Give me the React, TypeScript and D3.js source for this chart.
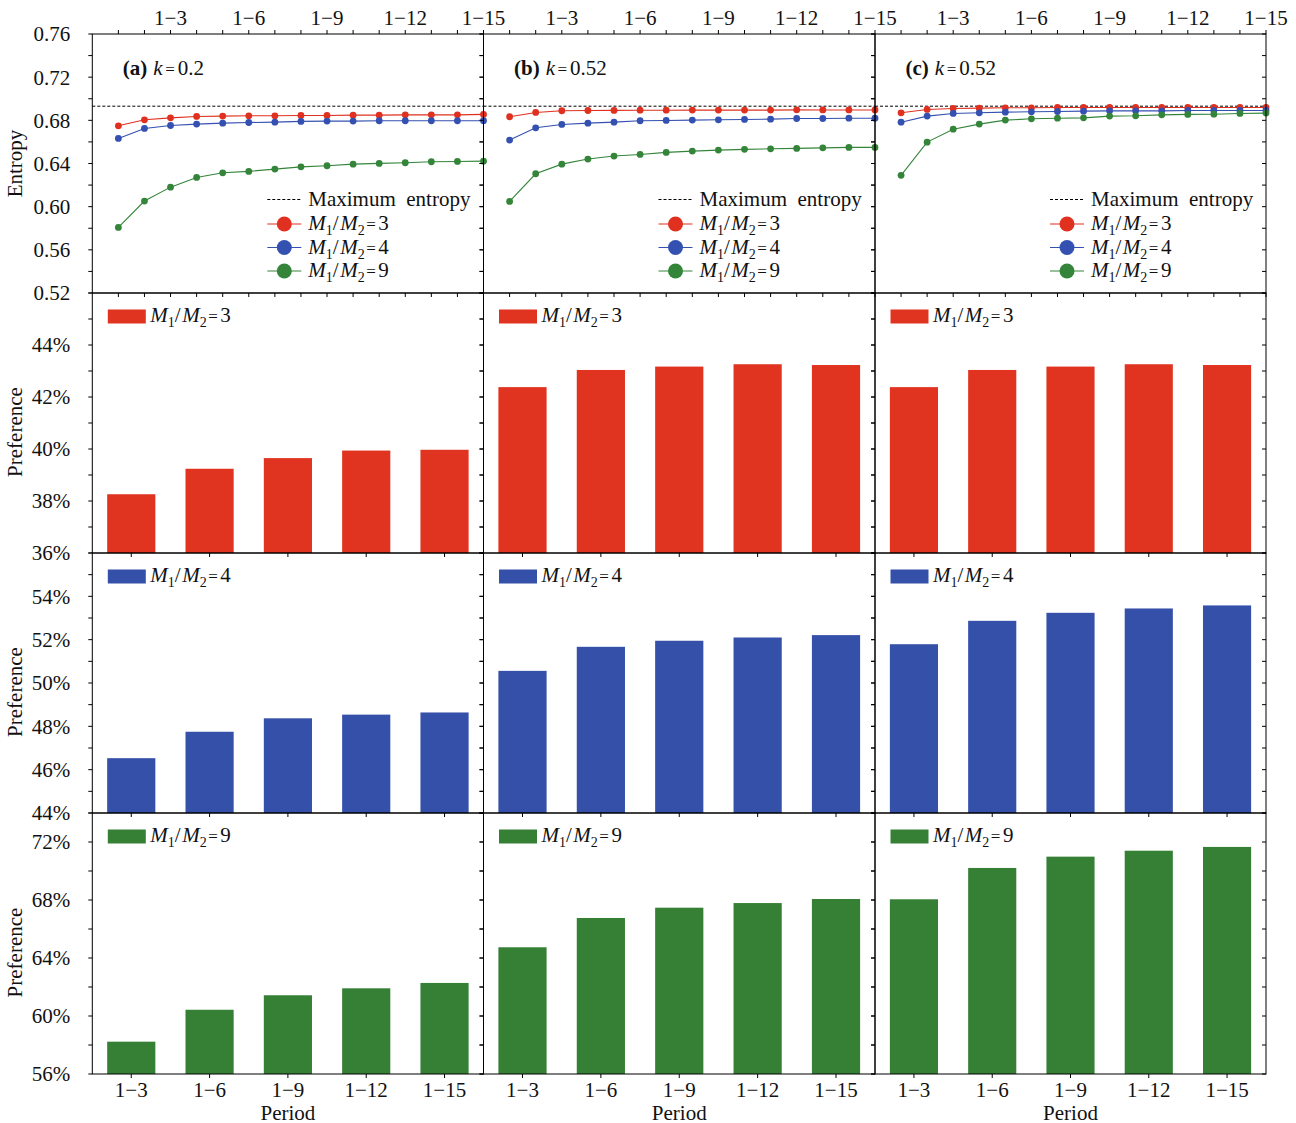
import React from "react";
import * as d3 from "d3";

// ---- data ----
const steps = d3.range(1, 16); // cumulative periods 1..15
const topTickLabels = ["1−3", "1−6", "1−9", "1−12", "1−15"];
const periodLabels = ["1−3", "1−6", "1−9", "1−12", "1−15"];
const ratios = [3, 4, 9];
const maxEntropy = 0.6931;

const panelTitles = [
  { tag: "(a)", k: "0.2" },
  { tag: "(b)", k: "0.52" },
  { tag: "(c)", k: "0.52" },
];

// entropy per step, k = 0.2
const entA_r3 = [0.6749, 0.6805, 0.6823, 0.6836, 0.6839, 0.6842, 0.6842, 0.6845, 0.6845, 0.6848, 0.6848, 0.6851, 0.6851, 0.6851, 0.6855];
const entA_r4 = [0.6632, 0.6725, 0.6752, 0.6765, 0.6774, 0.678, 0.6783, 0.679, 0.6793, 0.6793, 0.6796, 0.6796, 0.6796, 0.6796, 0.6796];
const entA_r9 = [0.5808, 0.6052, 0.6181, 0.6271, 0.6314, 0.6327, 0.6348, 0.6369, 0.6379, 0.6394, 0.6401, 0.6407, 0.6416, 0.6419, 0.6422];
// entropy per step, k = 0.52 (b)
const entB_r3 = [0.6833, 0.6873, 0.6889, 0.6891, 0.6892, 0.6894, 0.6894, 0.6895, 0.6895, 0.6895, 0.6895, 0.6897, 0.6896, 0.6896, 0.6896];
const entB_r4 = [0.6617, 0.6731, 0.6762, 0.6774, 0.6783, 0.6796, 0.6799, 0.6802, 0.6805, 0.6808, 0.6811, 0.6817, 0.6817, 0.682, 0.682];
const entB_r9 = [0.6049, 0.6305, 0.6394, 0.6441, 0.6469, 0.6484, 0.6503, 0.6515, 0.6524, 0.6531, 0.6536, 0.654, 0.6545, 0.6549, 0.6549];
// entropy per step, k = 0.52 (c)
const entC_r3 = [0.687, 0.6901, 0.691, 0.6913, 0.6916, 0.6916, 0.6919, 0.6919, 0.6919, 0.6919, 0.6919, 0.6919, 0.6919, 0.6919, 0.6919];
const entC_r4 = [0.6783, 0.6839, 0.6864, 0.687, 0.6876, 0.6879, 0.6882, 0.6885, 0.6888, 0.6888, 0.6888, 0.6891, 0.6891, 0.6891, 0.6891];
const entC_r9 = [0.629, 0.6598, 0.6718, 0.6765, 0.6802, 0.6814, 0.682, 0.6823, 0.6839, 0.6842, 0.6851, 0.6855, 0.6857, 0.6864, 0.6867];

// preference (%) per period
const prefA_r3 = [38.26, 39.24, 39.65, 39.94, 39.97];
const prefA_r4 = [46.53, 47.75, 48.37, 48.54, 48.64];
const prefA_r9 = [58.23, 60.43, 61.43, 61.91, 62.28];
const prefB_r3 = [42.38, 43.04, 43.17, 43.26, 43.23];
const prefB_r4 = [50.56, 51.67, 51.95, 52.1, 52.21];
const prefB_r9 = [64.74, 66.76, 67.47, 67.79, 68.07];
const prefC_r3 = [42.38, 43.04, 43.17, 43.26, 43.23];
const prefC_r4 = [51.79, 52.87, 53.24, 53.44, 53.58];
const prefC_r9 = [68.05, 70.21, 70.99, 71.4, 71.66];

const entropySeries = [
  [entA_r3, entA_r4, entA_r9],
  [entB_r3, entB_r4, entB_r9],
  [entC_r3, entC_r4, entC_r9],
];
const prefSeries = [
  [prefA_r3, prefA_r4, prefA_r9],
  [prefB_r3, prefB_r4, prefB_r9],
  [prefC_r3, prefC_r4, prefC_r9],
];

// ---- layout & style ----
const W = 1296;
const H = 1123;
const colX = [92.3, 483.5, 875, 1266];
const rowY = [34, 293, 553, 813, 1074];
const FONT = "'Liberation Serif', 'Times New Roman', serif";
const FS = 21;
const TICK = 4;
const lineColors = ["#e0301f", "#3450b0", "#34853a"];
const barColors = ["#e03421", "#3450a8", "#368036"];
const barDomains = [
  [36, 46],
  [44, 56],
  [56, 74],
];
const barMajor = [2, 2, 4];
const barMinor = [1, 1, 2];

function RatioText({ x, y, n }: { x: number; y: number; n: number }) {
  return (
    <text x={x} y={y} fontFamily={FONT} fontSize={FS} fill="#111">
      <tspan fontStyle="italic">M</tspan>
      <tspan fontSize={14} dy={5}>1</tspan>
      <tspan dy={-5}>/</tspan>
      <tspan fontStyle="italic" dx={1.5}>M</tspan>
      <tspan fontSize={14} dy={5}>2</tspan>
      <tspan dy={-5} dx={1.5} fontSize={17}>=</tspan>
      <tspan dx={2.5}>{n}</tspan>
    </text>
  );
}

function EntropyPanel({ col }: { col: number }) {
  const L = colX[col];
  const R = colX[col + 1];
  const T = rowY[0];
  const B = rowY[1];
  const x = d3.scaleLinear().domain([0, 15]).range([L, R]);
  const y = d3.scaleLinear().domain([0.52, 0.76]).range([B, T]);
  const yTicks = d3.range(0.52, 0.7601, 0.02);
  const yLabels = d3.range(0.52, 0.7601, 0.04);
  const line = d3
    .line<number>()
    .x((_, i) => x(steps[i]))
    .y((d) => y(d));
  const series = entropySeries[col];
  const title = panelTitles[col];
  const lx = L + 175;
  const legendRows = [224, 247.5, 271];
  return (
    <g>
      {/* ticks */}
      {steps.map((s) => (
        <g key={"tx" + s}>
          <line x1={x(s)} x2={x(s)} y1={T} y2={T - TICK} stroke="#000" />
          <line x1={x(s)} x2={x(s)} y1={B} y2={B + TICK} stroke="#000" />
        </g>
      ))}
      {yTicks.map((v, i) => (
        <g key={"ty" + i}>
          <line x1={L} x2={L - TICK} y1={y(v)} y2={y(v)} stroke="#000" />
          <line x1={R} x2={R - TICK} y1={y(v)} y2={y(v)} stroke="#000" />
        </g>
      ))}
      {col === 0 &&
        yLabels.map((v, i) => (
          <text
            key={"yl" + i}
            x={L - 22}
            y={y(v)}
            dy="0.35em"
            textAnchor="end"
            fontFamily={FONT}
            fontSize={FS}
            fill="#111"
          >
            {v.toFixed(2)}
          </text>
        ))}
      {[3, 6, 9, 12, 15].map((s, i) => (
        <text
          key={"xl" + s}
          x={x(s)}
          y={25}
          textAnchor="middle"
          fontFamily={FONT}
          fontSize={FS}
          fill="#111"
        >
          {topTickLabels[i]}
        </text>
      ))}
      {/* maximum entropy reference */}
      <line
        x1={L}
        x2={R}
        y1={y(maxEntropy)}
        y2={y(maxEntropy)}
        stroke="#000"
        strokeWidth={1}
        strokeDasharray="3,2"
      />
      {/* series */}
      {series.map((vals, si) => (
        <g key={"s" + si}>
          <path d={line(vals) || ""} fill="none" stroke={lineColors[si]} strokeWidth={1.1} />
          {vals.map((v, i) => (
            <circle key={i} cx={x(steps[i])} cy={y(v)} r={3.4} fill={lineColors[si]} />
          ))}
        </g>
      ))}
      {/* title */}
      <text x={L + 30.5} y={75} fontFamily={FONT} fontSize={FS} fill="#111">
        <tspan fontWeight="bold">{title.tag}</tspan>
        <tspan fontStyle="italic" dx={6}>k</tspan>
        <tspan dx={2.5} fontSize={17}>=</tspan>
        <tspan dx={3}>{title.k}</tspan>
      </text>
      {/* legend */}
      <line x1={lx} x2={lx + 34} y1={199.5} y2={199.5} stroke="#000" strokeDasharray="3,2" />
      <text x={lx + 41} y={205.5} fontFamily={FONT} fontSize={FS} fill="#111" style={{ whiteSpace: "pre" }}>
        {"Maximum  entropy"}
      </text>
      {ratios.map((r, i) => (
        <g key={"lg" + r}>
          <line x1={lx} x2={lx + 34} y1={legendRows[i]} y2={legendRows[i]} stroke={lineColors[i]} strokeWidth={1.1} />
          <circle cx={lx + 17} cy={legendRows[i]} r={7.5} fill={lineColors[i]} />
          <RatioText x={lx + 41} y={legendRows[i] + 6} n={r} />
        </g>
      ))}
      <rect x={L} y={T} width={R - L} height={B - T} fill="none" stroke="#000" strokeWidth={1} />
    </g>
  );
}

function BarPanel({ col, row }: { col: number; row: number }) {
  const L = colX[col];
  const R = colX[col + 1];
  const T = rowY[row + 1];
  const B = rowY[row + 2];
  const [lo, hi] = barDomains[row];
  const x = d3.scaleBand<string>().domain(periodLabels).range([L, R]).paddingInner(0.385).paddingOuter(0.19);
  const y = d3.scaleLinear().domain([lo, hi]).range([B, T]);
  const minor = d3.range(lo, hi + 0.001, barMinor[row]);
  const major = d3.range(lo, hi - 0.001, barMajor[row]);
  const vals = prefSeries[col][row];
  return (
    <g>
      {vals.map((v, i) => (
        <rect
          key={i}
          x={x(periodLabels[i])}
          y={y(v)}
          width={x.bandwidth()}
          height={B - y(v)}
          fill={barColors[row]}
        />
      ))}
      {minor.map((v, i) => (
        <g key={"t" + i}>
          <line x1={L} x2={L - TICK} y1={y(v)} y2={y(v)} stroke="#000" />
          <line x1={R} x2={R - TICK} y1={y(v)} y2={y(v)} stroke="#000" />
        </g>
      ))}
      {periodLabels.map((p) => (
        <line
          key={"bx" + p}
          x1={(x(p) as number) + x.bandwidth() / 2}
          x2={(x(p) as number) + x.bandwidth() / 2}
          y1={B}
          y2={B + TICK}
          stroke="#000"
        />
      ))}
      {col === 0 &&
        major.map((v, i) => (
          <text
            key={"yl" + i}
            x={L - 22}
            y={y(v)}
            dy="0.35em"
            textAnchor="end"
            fontFamily={FONT}
            fontSize={FS}
            fill="#111"
          >
            {v + "%"}
          </text>
        ))}
      {row === 2 &&
        periodLabels.map((p) => (
          <text
            key={"xl" + p}
            x={(x(p) as number) + x.bandwidth() / 2}
            y={1097}
            textAnchor="middle"
            fontFamily={FONT}
            fontSize={FS}
            fill="#111"
          >
            {p}
          </text>
        ))}
      {row === 2 && (
        <text x={(L + R) / 2} y={1119.5} textAnchor="middle" fontFamily={FONT} fontSize={FS} fill="#111">
          Period
        </text>
      )}
      {col === 0 && (
        <text
          transform={`translate(22,${(T + B) / 2 + 9}) rotate(-90)`}
          textAnchor="middle"
          fontFamily={FONT}
          fontSize={FS}
          fill="#111"
        >
          Preference
        </text>
      )}
      {/* legend */}
      <rect x={L + 15.5} y={T + 16.5} width={38} height={14} fill={barColors[row]} />
      <RatioText x={L + 58} y={T + 29} n={ratios[row]} />
      <rect x={L} y={T} width={R - L} height={B - T} fill="none" stroke="#000" strokeWidth={1} />
    </g>
  );
}

export default function App() {
  return (
    <svg
      width={W}
      height={H}
      viewBox={`0 0 ${W} ${H}`}
      style={{ position: "absolute", left: 0, top: 0, background: "#fff" }}
    >
      <rect width={W} height={H} fill="#fff" />
      <text
        transform={`translate(22,${(rowY[0] + rowY[1]) / 2}) rotate(-90)`}
        textAnchor="middle"
        fontFamily={FONT}
        fontSize={FS}
        fill="#111"
      >
        Entropy
      </text>
      {[0, 1, 2].map((c) => (
        <g key={"c" + c}>
          {[0, 1, 2].map((r) => (
            <BarPanel key={"b" + r} col={c} row={r} />
          ))}
          <EntropyPanel col={c} />
        </g>
      ))}
    </svg>
  );
}
